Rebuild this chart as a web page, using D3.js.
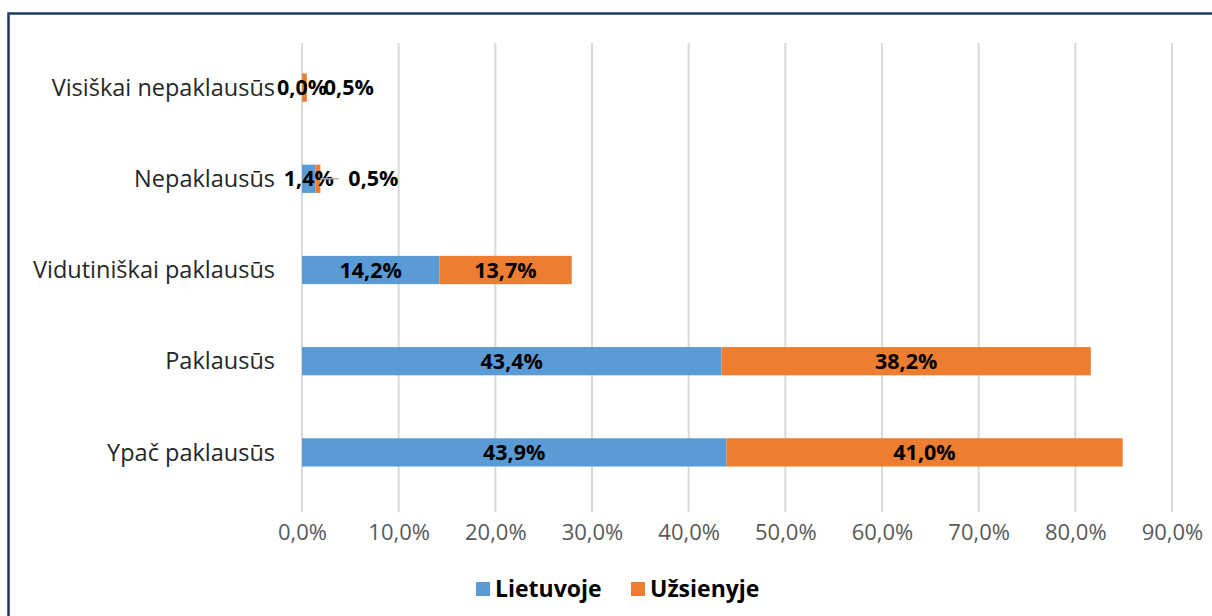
<!DOCTYPE html>
<html><head><meta charset="utf-8">
<script src="https://cdn.jsdelivr.net/npm/d3@7"></script>
<style>
html,body{margin:0;padding:0;background:#fff;}
svg{display:block;font-family:"Open Sans",sans-serif;}
</style></head><body>
<svg id="c" width="1212" height="616"></svg>
<script>
const categories = ["Visiškai nepaklausūs","Nepaklausūs","Vidutiniškai paklausūs","Paklausūs","Ypač paklausūs"];
const lietuvoje = [0.0, 1.4, 14.2, 43.4, 43.9];
const uzsienyje = [0.5, 0.5, 13.7, 38.2, 41.0];
const seriesNames = ["Lietuvoje","Užsienyje"];
const colors = ["#5B9BD5","#ED7D31"];
const tickValues = [0,10,20,30,40,50,60,70,80,90];

const svg = d3.select("#c");
// border
svg.append("path").attr("d","M8.5,616 L8.5,13.5 L1212,13.5").attr("fill","none").attr("stroke","#1F3864").attr("stroke-width",2.5);

const x = d3.scaleLinear().domain([0,90]).range([302,1172]);
const y = d3.scaleBand().domain(categories).range([42,498]).paddingInner(0.69).paddingOuter(0.345);

// gridlines
svg.append("g").selectAll("line").data(tickValues).join("line")
  .attr("x1",d=>x(d)).attr("x2",d=>x(d)).attr("y1",43).attr("y2",512)
  .attr("stroke","#D9D9D9").attr("stroke-width",2);

// axis tick labels
const ax = d3.axisBottom(x).tickValues(tickValues).tickSize(0).tickPadding(0)
  .tickFormat(d=>d.toFixed(1).replace(".",",")+"%");
const axg = svg.append("g").attr("transform","translate(0,532)").call(ax);
axg.select(".domain").remove();
axg.selectAll("text").attr("fill","#595959").attr("font-size",22).attr("font-family","Open Sans").attr("dy","0.35em");

// category labels
svg.append("g").selectAll("text").data(categories).join("text")
  .attr("x",275).attr("y",d=>y(d)+y.bandwidth()/2).attr("dy","0.35em")
  .attr("text-anchor","end").attr("font-size",23.5).attr("fill","#262626").text(d=>d);

// stacked bars
const rows = categories.map((c,i)=>({c, a:lietuvoje[i], b:uzsienyje[i]}));
const g = svg.append("g");
g.selectAll("rect.a").data(rows).join("rect").attr("class","a")
  .attr("x",x(0)).attr("y",d=>y(d.c)).attr("height",y.bandwidth())
  .attr("width",d=>x(d.a)-x(0)).attr("fill",colors[0]);
g.selectAll("rect.b").data(rows).join("rect").attr("class","b")
  .attr("x",d=>x(d.a)).attr("y",d=>y(d.c)).attr("height",y.bandwidth())
  .attr("width",d=>x(d.a+d.b)-x(d.a)).attr("fill",colors[1]);

const fmt = v=>v.toFixed(1).replace(".",",")+"%";
const lbl = svg.append("g").attr("font-weight","bold").attr("font-size",21.5).attr("fill","#000");
rows.forEach((d,i)=>{
  const cy = y(d.c)+y.bandwidth()/2;
  lbl.append("text").attr("x",x(d.a/2)+ (d.a<3?0:0)).attr("y",cy).attr("dy","0.35em").attr("text-anchor","middle").text(fmt(d.a));
  if (d.b > 3) {
    lbl.append("text").attr("x",x(d.a+d.b/2)).attr("y",cy).attr("dy","0.35em").attr("text-anchor","middle").text(fmt(d.b));
  } else if (i===1) {
    svg.append("line").attr("x1",x(d.a+d.b)).attr("x2",x(d.a+d.b)+18).attr("y1",cy).attr("y2",cy).attr("stroke","#A6A6A6").attr("stroke-width",1.5);
    lbl.append("text").attr("x",x(d.a+d.b)+28).attr("y",cy).attr("dy","0.35em").attr("text-anchor","start").text(fmt(d.b));
  } else {
    lbl.append("text").attr("x",x(d.a+d.b)+17).attr("y",cy).attr("dy","0.35em").attr("text-anchor","start").text(fmt(d.b));
  }
});

// legend
const lg = svg.append("g").attr("font-weight","bold").attr("font-size",23).attr("fill","#000");
const lx = [476,631];
seriesNames.forEach((n,i)=>{
  lg.append("rect").attr("x",lx[i]).attr("y",582).attr("width",14).attr("height",14).attr("fill",colors[i]);
  lg.append("text").attr("x",lx[i]+19).attr("y",589).attr("dy","0.35em").text(n);
});
</script>
</body></html>
